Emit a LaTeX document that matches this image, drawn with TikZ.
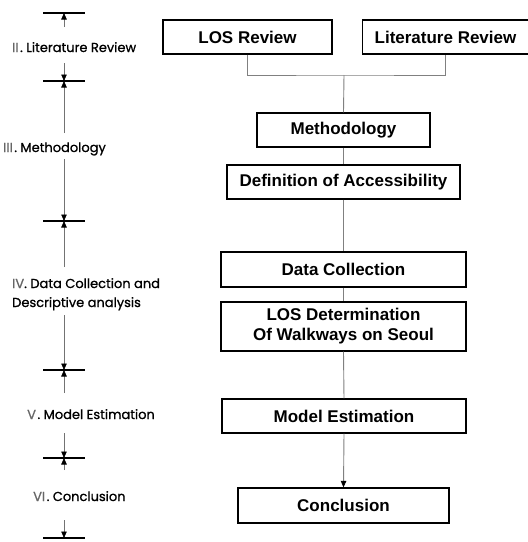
\documentclass[tikz,border=0pt]{standalone}
\usepackage{fontspec}
\setmainfont{Liberation Sans}
\newfontfamily\leftfont{Poppins}[FakeBold=0.9]
\usetikzlibrary{arrows.meta}
\begin{document}
\begin{tikzpicture}[x=1pt,y=-1pt,
  box/.style={draw=black,line width=1.3pt,inner sep=0pt,font=\fontsize{17}{20}\selectfont\bfseries,align=center},
  conn/.style={draw=black!50,line width=0.9pt},
  side/.style={draw=black!55,line width=0.7pt},
  tip/.style={-{Triangle[length=6.5pt,width=5.5pt,color=black]}},
  bar/.style={draw=black,line width=2pt},
  lab/.style={anchor=base west,inner sep=0pt,font=\leftfont\fontsize{13}{19}\selectfont,align=left}
]
\useasboundingbox (0,0) rectangle (528,542);
% right side boxes
\node[box,minimum width=169pt,minimum height=34pt] (los) at (247.5,37) {LOS Review};
\node[box,minimum width=166pt,minimum height=34pt] (lit) at (445.5,37) {Literature Review};
\node[box,minimum width=173pt,minimum height=34pt] (meth) at (343.5,130) {Methodology};
\node[box,minimum width=233pt,minimum height=34pt] (def) at (343.5,182) {Definition of Accessibility};
\node[box,minimum width=245pt,minimum height=35pt] (data) at (343.5,269.5) {Data Collection};
\node[box,minimum width=245pt,minimum height=49pt] (losd) at (343.5,326.5) {LOS Determination\\Of Walkways on Seoul};
\node[box,minimum width=244pt,minimum height=34pt] (model) at (344,416) {Model Estimation};
\node[box,minimum width=211pt,minimum height=35pt] (concl) at (343.5,505.5) {Conclusion};
% connectors
\coordinate (j) at (344,75);
\draw[conn] (los.south) |- (j) -| (lit.south);
\draw[conn] (j) -- (meth.north);
\draw[conn] (meth.south) -- (def.north);
\draw[conn] (def.south) -- (data.north);
\draw[conn] (data.south) -- (losd.north);
\draw[conn] (losd.south) -- (model.north);
\draw[conn,tip] (model.south) -- (concl.north);
% left side bars
\foreach \y/\n in {13/b1,81/b2,221/b3,370/b4,458/b5,538/b6}{
  \coordinate (\n) at (64,\y);
  \draw[bar] (\n) ++(-21,0) -- ++(42,0);
}
% left labels
\node[lab] (l2) at (12,52) {{\color{black!60}II}\kern1.5pt. Literature Review};
\node[lab] (l3) at (3,152) {{\color{black!60}III}\kern1.5pt. Methodology};
\node[lab] (l4) at (12,307) {{\color{black!60}IV}. Data Collection and\\Descriptive analysis};
\node[lab] (l5) at (27,419) {{\color{black!60}V}\kern1.5pt. Model Estimation};
\node[lab] (l6) at (33,501) {{\color{black!60}VI}\kern1.5pt. Conclusion};
% left arrows
\coordinate (s1) at (64,27);
\coordinate (s2) at (64,63);
\coordinate (s3) at (64,133);
\coordinate (s4) at (64,159);
\coordinate (s5) at (64,267);
\coordinate (s6) at (64,315);
\coordinate (s7) at (64,393);
\coordinate (s8) at (64,433);
\coordinate (s9) at (64,470);
\coordinate (s10) at (64,520);
\draw[side,tip] (s1) -- (b1);
\draw[side,tip] (s2) -- (b2);
\draw[side,tip] (s3) -- (b2);
\draw[side,tip] (s4) -- (b3);
\draw[side,tip] (s5) -- (b3);
\draw[side,tip] (s6) -- (b4);
\draw[side,tip] (s7) -- (b4);
\draw[side,tip] (s8) -- (b5);
\draw[side,tip] (s9) -- (b5);
\draw[side,tip] (s10) -- (b6);
\end{tikzpicture}
\end{document}
